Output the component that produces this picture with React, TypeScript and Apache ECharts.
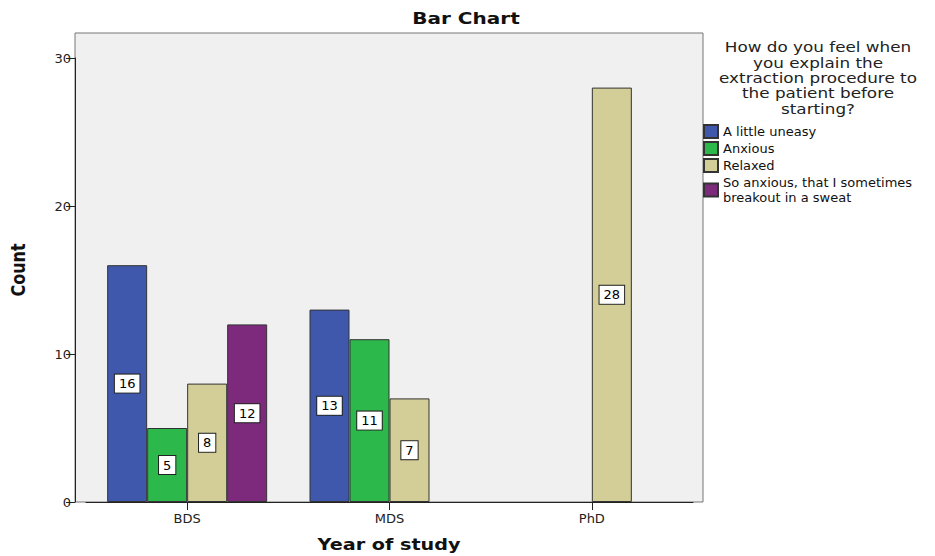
import React, { useEffect, useRef } from "react";
import * as echarts from "echarts";

const categories = ["BDS", "MDS", "PhD"];
const seriesNames = [
  "A little uneasy",
  "Anxious",
  "Relaxed",
  "So anxious, that I sometimes breakout in a sweat",
];
const littleUneasy = [16, 13, null];
const anxious = [5, 11, null];
const relaxed = [8, 7, 28];
const soAnxious = [12, null, null];
const seriesValues = [littleUneasy, anxious, relaxed, soAnxious];
const seriesColors = ["#3f58ab", "#2db84b", "#d3ce97", "#7d2a7d"];
const yTicks = [0, 10, 20, 30];
const legendTitle = [
  "How do you feel when",
  "you explain the",
  "extraction procedure to",
  "the patient before",
  "starting?",
];

const FONT = "DejaVu Sans";

export default function App() {
  const ref = useRef<HTMLDivElement>(null);
  useEffect(() => {
    if (!ref.current) return;
    const chart = echarts.init(ref.current, null, { renderer: "svg" });
    const option: any = {
      animation: false,
      backgroundColor: "#ffffff",
      legend: {
        orient: "vertical",
        left: 703,
        top: 124,
        padding: 0,
        itemWidth: 14,
        itemHeight: 13,
        itemGap: 2,
        icon: "rect",
        data: seriesNames,
        formatter: (n: string) => {
          const k = n.indexOf("sometimes ");
          if (k < 0) return n;
          const a = n.slice(0, k + 9);
          const b = n.slice(k + 10);
          return "{m|" + a + "}\n{m|" + b + "}";
        },
        textStyle: {
          fontFamily: FONT,
          fontSize: 13,
          color: "#111",
          lineHeight: 13,
          rich: {
            m: { fontFamily: FONT, fontSize: 13, color: "#111", lineHeight: 15 },
          },
        },
      },
      graphic: [
        {
          type: "rect",
          z: -1,
          shape: { x: 75, y: 33, width: 628, height: 469 },
          style: { fill: "#f0f0f0", stroke: "#777", lineWidth: 1 },
          silent: true,
        },
        {
          type: "text",
          x: 466,
          y: 18,
          scaleX: 1.25,
          style: {
            text: "Bar Chart",
            fontFamily: FONT,
            fontSize: 16,
            fontWeight: "bold",
            fill: "#111",
            align: "center",
            verticalAlign: "middle",
          },
        },
        {
          type: "text",
          x: 389,
          y: 545,
          scaleX: 1.2,
          style: {
            text: "Year of study",
            fontFamily: FONT,
            fontSize: 16,
            fontWeight: "bold",
            fill: "#111",
            align: "center",
            verticalAlign: "middle",
          },
        },
        {
          type: "text",
          x: 18,
          y: 270,
          rotation: Math.PI / 2,
          scaleY: 1.2,
          style: {
            text: "Count",
            fontFamily: FONT,
            fontSize: 16,
            fontWeight: "bold",
            fill: "#111",
            align: "center",
            verticalAlign: "middle",
          },
        },
        {
          type: "text",
          x: 818,
          y: 40,
          scaleX: 1.2,
          style: {
            text: legendTitle.join("\n"),
            fontFamily: FONT,
            fontSize: 14,
            lineHeight: 15.4,
            fill: "#222",
            align: "center",
            verticalAlign: "top",
          },
        },
      ],
      grid: { left: 86, right: 242, top: 58, bottom: 54, outerBoundsMode: "none" },
      xAxis: {
        type: "category",
        data: categories,
        axisLine: { show: true, lineStyle: { color: "#222", width: 1 } },
        axisTick: { show: true, alignWithLabel: true, length: 8, lineStyle: { color: "#222" } },
        axisLabel: { fontFamily: FONT, fontSize: 13, color: "#222", margin: 10 },
        splitLine: { show: false },
      },
      yAxis: {
        type: "value",
        min: yTicks[0],
        max: yTicks[yTicks.length - 1],
        interval: 10,
        offset: 11,
        axisLine: { show: true, lineStyle: { color: "#222", width: 1 } },
        axisTick: { show: true, length: 9, lineStyle: { color: "#222" } },
        axisLabel: { fontFamily: FONT, fontSize: 13, color: "#222", margin: 4 },
        splitLine: { show: false },
      },
      series: seriesNames.map((name, i) => ({
        name,
        type: "bar",
        data: seriesValues[i],
        barWidth: 40,
        barGap: "0%",
        itemStyle: { color: seriesColors[i], borderColor: "#333", borderWidth: 1 },
        label: {
          show: true,
          position: "inside",
          fontFamily: FONT,
          fontSize: 13,
          color: "#000",
          backgroundColor: "#ffffff",
          borderColor: "#222",
          borderWidth: 1,
          padding: [3, 4, 2, 4],
        },
      })),
    };
    chart.setOption(option);
    return () => chart.dispose();
  }, []);
  return (
    <div
      ref={ref}
      style={{ position: "absolute", left: 0, top: 0, width: 935, height: 556 }}
    />
  );
}
